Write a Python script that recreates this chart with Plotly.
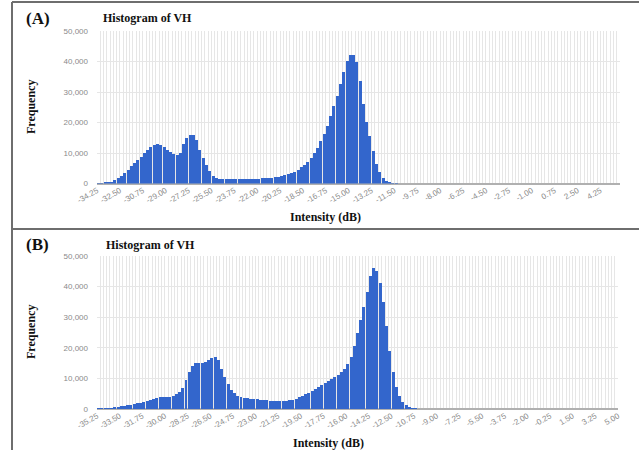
import plotly.graph_objects as go

W, H = 639, 450

# ---------------- data ----------------
bin_width = 0.25

# Panel A: buckets start at -34.25 (160 buckets up to 5.75)
a_start = -34.25
a_counts_nonzero = [
    150, 150, 200, 250, 500, 1100, 1700, 2550, 3500, 4500,
    5600, 6700, 7700, 8800, 10000, 11000, 12000, 12600, 12850, 12700,
    12000, 11100, 10300, 9600, 9400, 10000, 12800, 14800, 15900, 16000,
    14400, 11000, 8300, 6000, 4200, 2600, 1800, 1500, 1400, 1400,
    1400, 1400, 1400, 1400, 1450, 1450, 1500, 1500, 1550, 1600,
    1650, 1750, 1850, 1950, 2100, 2250, 2450, 2700, 3000, 3400,
    3900, 4500, 5300, 6200, 7200, 8500, 10000, 11800, 13900, 16300,
    19000, 22000, 25300, 28800, 32500, 36500, 40300, 42100, 42000, 39800,
    33500, 26000, 20300, 15500, 10600, 6500, 3700, 1800, 700, 250,
    80, 30,
]
a_counts = a_counts_nonzero + [0] * 68

# Panel B: buckets start at -35.25 (161 buckets up to 5.00)
b_start = -35.25
b_counts_nonzero = [
    150, 150, 150, 200, 300, 600, 800, 1000, 1100, 1300,
    1450, 1650, 1900, 2100, 2350, 2650, 2950, 3250, 3550, 3800,
    3950, 4000, 4000, 4300, 4800, 5600, 7000, 9400, 12200, 14100,
    14900, 15100, 15100, 15300, 15900, 16600, 17100, 15900, 13200, 10400,
    8200, 6300, 5100, 4400, 3900, 3650, 3500, 3350, 3250, 3150,
    3000, 2900, 2800, 2700, 2650, 2650, 2650, 2650, 2700, 2800,
    3000, 3300, 3800, 4300, 4800, 5350, 5900, 6500, 7100, 7800,
    8400, 9000, 9700, 10400, 11200, 12000, 13200, 14700, 17000, 20500,
    25000, 29000, 33200, 38300, 43500, 46000, 45000, 41300, 35000, 27000,
    18800, 12000, 7300, 4200, 2400, 1200, 600, 250, 80,
]
b_counts = b_counts_nonzero + [0] * 62

a_tick_labels = ["-34.25", "-32.50", "-30.75", "-29.00", "-27.25", "-25.50",
                 "-23.75", "-22.00", "-20.25", "-18.50", "-16.75", "-15.00",
                 "-13.25", "-11.50", "-9.75", "-8.00", "-6.25", "-4.50",
                 "-2.75", "-1.00", "0.75", "2.50", "4.25"]
b_tick_labels = ["-35.25", "-33.50", "-31.75", "-30.00", "-28.25", "-26.50",
                 "-24.75", "-23.00", "-21.25", "-19.50", "-17.75", "-16.00",
                 "-14.25", "-12.50", "-10.75", "-9.00", "-7.25", "-5.50",
                 "-3.75", "-2.00", "-0.25", "1.50", "3.25", "5.00"]
y_tick_vals = [0, 10000, 20000, 30000, 40000, 50000]
y_tick_text = ["0", "10,000", "20,000", "30,000", "40,000", "50,000"]

a_range = [-34.25, 5.75]
b_range = [-35.25, 5.00]

# ---------------- helpers ----------------
def px_x(p):
    return p / W

def px_y(p):
    return 1 - p / H

a_centers = [a_start + bin_width * (i + 0.5) for i in range(len(a_counts))]
b_centers = [b_start + bin_width * (i + 0.5) for i in range(len(b_counts))]

BLUE = "#3366cc"
GRID = "#e6e6e6"
TICKCOL = "#8a8a8a"
SERIF = "Liberation Serif, Times New Roman, serif"
SANS = "Liberation Sans, Arial, sans-serif"

fig = go.Figure()
fig.add_trace(go.Bar(x=a_centers, y=a_counts, width=bin_width * 0.92,
                     marker=dict(color=BLUE, line=dict(width=0)),
                     xaxis="x", yaxis="y", showlegend=False))
fig.add_trace(go.Bar(x=b_centers, y=b_counts, width=bin_width * 0.92,
                     marker=dict(color=BLUE, line=dict(width=0)),
                     xaxis="x2", yaxis="y2", showlegend=False))

def xaxis_cfg(rng, start, labels, domain, anchor):
    vals = [float(s) for s in labels]
    return dict(
        domain=domain, anchor=anchor, range=rng, automargin=False,
        tickmode="array", tickvals=vals, ticktext=labels,
        tickangle=-30, tickfont=dict(family=SANS, size=8, color=TICKCOL),
        ticks="", showgrid=True, gridcolor=GRID, gridwidth=1,
        minor=dict(dtick=bin_width, tick0=start, showgrid=True,
                   gridcolor=GRID, gridwidth=1, ticks=""),
        showline=False, zeroline=False, fixedrange=True,
    )

def yaxis_cfg(domain, anchor):
    return dict(
        domain=domain, anchor=anchor, range=[0, 50000], automargin=False,
        tickmode="array", tickvals=y_tick_vals, ticktext=y_tick_text,
        tickfont=dict(family=SANS, size=8, color=TICKCOL),
        ticks="", ticklabelstandoff=8,
        showgrid=True, gridcolor=GRID, gridwidth=1,
        zeroline=True, zerolinecolor="#b0b0b0", zerolinewidth=1.5,
        showline=False, fixedrange=True,
    )

fig.update_layout(
    width=W, height=H,
    margin=dict(l=0, r=0, t=0, b=0, pad=0, autoexpand=False),
    paper_bgcolor="white", plot_bgcolor="white",
    bargap=0, barmode="overlay",
    xaxis=xaxis_cfg(a_range, a_start, a_tick_labels, [px_x(97), px_x(620)], "y"),
    yaxis=yaxis_cfg([px_y(183.5), px_y(31)], "x"),
    xaxis2=xaxis_cfg(b_range, b_start, b_tick_labels, [px_x(97), px_x(618)], "y2"),
    yaxis2=yaxis_cfg([px_y(409), px_y(256)], "x2"),
)

# panel borders
border = dict(color="#6e6e6e", width=2)
fig.add_shape(type="line", xref="paper", yref="paper",
              x0=px_x(12), x1=1, y0=px_y(2), y1=px_y(2), line=border)
fig.add_shape(type="line", xref="paper", yref="paper",
              x0=px_x(12), x1=px_x(12), y0=px_y(2), y1=0, line=border)
fig.add_shape(type="line", xref="paper", yref="paper",
              x0=px_x(12), x1=1, y0=px_y(229), y1=px_y(229), line=border)

def ann(text, x, y, size, xanchor="left", angle=0, bold=True):
    fig.add_annotation(text=("<b>%s</b>" % text) if bold else text,
                       xref="paper", yref="paper", x=px_x(x), y=px_y(y),
                       xanchor=xanchor, yanchor="middle", showarrow=False,
                       textangle=angle,
                       font=dict(family=SERIF, size=size, color="#111"))

# Panel A texts
ann("(A)", 24, 18, 17)
ann("Histogram of VH", 101, 18, 12)
ann("Frequency", 31, 107, 12, xanchor="center", angle=-90)
ann("Intensity (dB)", 325, 217, 12, xanchor="center")

# Panel B texts
ann("(B)", 24, 245, 17)
ann("Histogram of VH", 104, 245, 12)
ann("Frequency", 31, 332, 12, xanchor="center", angle=-90)
ann("Intensity (dB)", 328, 443, 12, xanchor="center")

fig.write_html("out.html")
